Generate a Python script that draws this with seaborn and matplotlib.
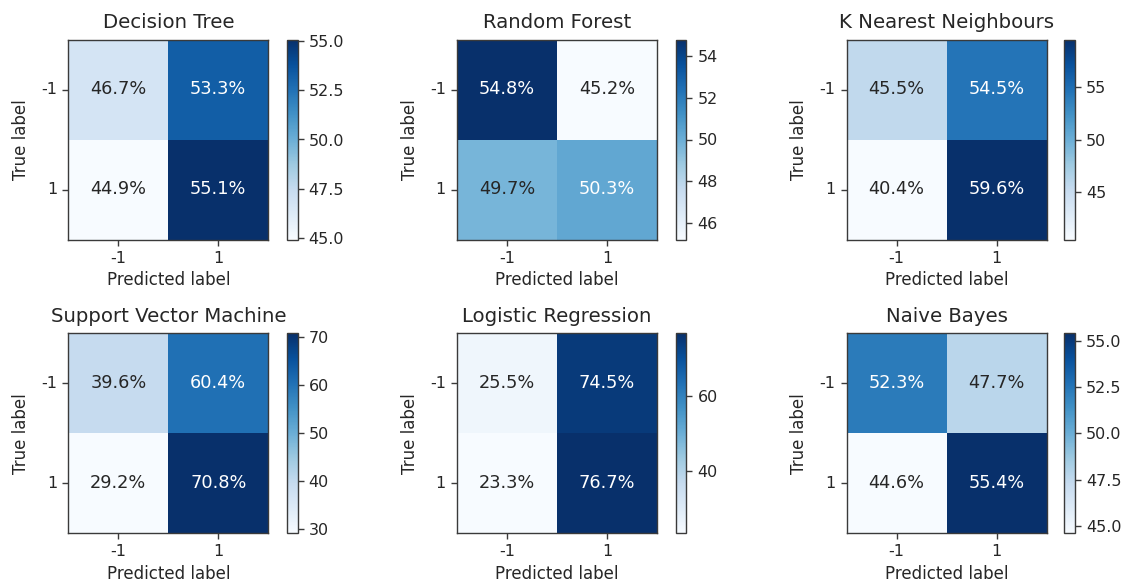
import numpy as np
import pandas as pd
import matplotlib
matplotlib.use("Agg")
import matplotlib.pyplot as plt
import seaborn as sns

titles = ["Decision Tree", "Random Forest", "K Nearest Neighbours",
          "Support Vector Machine", "Logistic Regression", "Naive Bayes"]
labels = ["-1", "1"]
dt = [[46.7, 53.3], [44.9, 55.1]]
rf = [[54.8, 45.2], [49.7, 50.3]]
knn = [[45.5, 54.5], [40.4, 59.6]]
svm = [[39.6, 60.4], [29.2, 70.8]]
lr = [[25.5, 74.5], [23.3, 76.7]]
nb = [[52.3, 47.7], [44.6, 55.4]]
matrices = [dt, rf, knn, svm, lr, nb]

cbar_ticks = [
    [45.0, 47.5, 50.0, 52.5, 55.0],
    [46, 48, 50, 52, 54],
    [45, 50, 55],
    [30, 40, 50, 60, 70],
    [40, 60],
    [45.0, 47.5, 50.0, 52.5, 55.0],
]
cbar_fmt = ["{:.1f}", "{:.0f}", "{:.0f}", "{:.0f}", "{:.0f}", "{:.1f}"]

sns.set_style("ticks")
plt.rcParams["font.family"] = ["DejaVu Sans"]

W, H = 1131, 586
fig = plt.figure(figsize=(W / 100, H / 100), dpi=100)

lefts = [68.3, 457, 846.5]
tops = [39.5, 333.3]
cb_lefts = [287, 675.8, 1064.3]
size = 200
cbw = 10.5
edge = "#3a3a3a"

for i, (title, m) in enumerate(zip(titles, matrices)):
    r, c = divmod(i, 3)
    l, t = lefts[c], tops[r]
    ax = fig.add_axes([l / W, 1 - (t + size) / H, size / W, size / H])
    cax = fig.add_axes([cb_lefts[c] / W, 1 - (t + size) / H, cbw / W, size / H])
    df = pd.DataFrame(m, index=labels, columns=labels)
    sns.heatmap(df, ax=ax, cbar_ax=cax, cmap="Blues", annot=False, square=False)
    arr = np.array(m)
    for yi in range(2):
        for xi in range(2):
            v = arr[yi, xi]
            ax.text(xi + 0.5, yi + 0.5, f"{v:.1f}%", ha="center", va="center",
                    fontsize=12.8, color="white" if v > 50 else "#262626")
    for s in ax.spines.values():
        s.set_visible(True)
        s.set_color(edge)
        s.set_linewidth(1.0)
    ax.set_title(title, fontsize=14.2, pad=8)
    ax.set_xlabel("Predicted label", fontsize=12)
    ax.set_ylabel("True label", fontsize=12, labelpad=8)
    ax.tick_params(axis="both", which="both", length=4.5, width=1, labelsize=11.5,
                   left=True, bottom=True, color=edge)
    ax.set_yticklabels(labels, rotation=0)
    ax.set_xticklabels(labels, rotation=0)
    cb = ax.collections[0].colorbar
    cb.set_ticks(cbar_ticks[i])
    cb.set_ticklabels([cbar_fmt[i].format(v) for v in cbar_ticks[i]])
    cb.outline.set_linewidth(1.0)
    cb.outline.set_edgecolor(edge)
    cax.tick_params(labelsize=11.5, length=4.5, width=1, right=True, color=edge)

fig.savefig("out.png", dpi=100)
